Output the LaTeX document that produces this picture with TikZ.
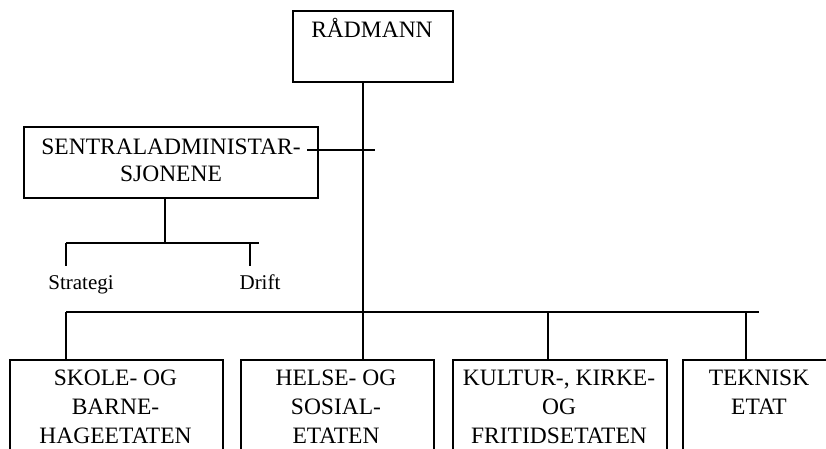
\documentclass[tikz,border=0pt]{standalone}
\usepackage{fontspec}
\setmainfont{Liberation Serif}
\begin{document}
\begin{tikzpicture}[x=1pt,y=-1pt,
  line width=1.8pt,
  box/.style={draw, line width=1.8pt, rectangle, inner sep=0pt, anchor=north west},
  big/.style={font=\fontsize{23.5}{29}\selectfont, align=center, anchor=base, inner sep=0pt},
  small/.style={font=\fontsize{21}{25}\selectfont, anchor=base, inner sep=0pt}]
\useasboundingbox (0,0) rectangle (826,448);
\clip (0,0) rectangle (826,448);

% boxes
\node[box, minimum width=160pt, minimum height=71pt] (rad) at (292,10) {};
\node[box, minimum width=294pt, minimum height=71pt] (sentral) at (23,126) {};
\node[box, minimum width=213pt, minimum height=120pt] (skole) at (9,359) {};
\node[box, minimum width=193pt, minimum height=120pt] (helse) at (240,359) {};
\node[box, minimum width=214pt, minimum height=120pt] (kultur) at (452,359) {};
\node[box, minimum width=154pt, minimum height=120pt] (teknisk) at (682,359) {};

% labels (anchored at the baseline of their last line)
\node[big] (radt) at (372,37) {RÅDMANN};
\node[big] (sentralt) at (171,181) {SENTRALADMINISTAR-\\[-2pt]SJONENE};
\node[big] (skolet) at (115.5,443) {SKOLE- OG\\BARNE-\\HAGEETATEN};
\node[big] (helset) at (336,443) {HELSE- OG\\SOSIAL-\\ETATEN};
\node[big] (kulturt) at (559,443) {KULTUR-, KIRKE-\\OG\\FRITIDSETATEN};
\node[big] (teknisket) at (759,414) {TEKNISK\\ETAT};
\node[small] (strategi) at (81,289) {Strategi};
\node[small] (drift) at (260,289) {Drift};

% junction points
\coordinate (trunk) at (363,312);
\coordinate (sl) at (307,150);
\coordinate (sr) at (375,150);
\coordinate (sub) at (165,243);
\coordinate (subl) at (66,243);
\coordinate (subr) at (259,243);
\coordinate (sa) at (66,266);
\coordinate (da) at (250,266);
\coordinate (barl) at (66,312);
\coordinate (barr) at (759,312);
\coordinate (d3) at (548,312);
\coordinate (d4) at (746,312);

% connectors
\draw (trunk |- rad.south) -- (trunk);
\draw (sl) -- (sr);
\draw (sub |- sentral.south) -- (sub);
\draw (subl) -- (subr);
\draw (subl) -- (sa);
\draw (da |- subl) -- (da);
\draw (barl) -- (barr);
\draw (barl) -- (barl |- skole.north);
\draw (trunk) -- (trunk |- helse.north);
\draw (d3) -- (d3 |- kultur.north);
\draw (d4) -- (d4 |- teknisk.north);
\end{tikzpicture}
\end{document}
